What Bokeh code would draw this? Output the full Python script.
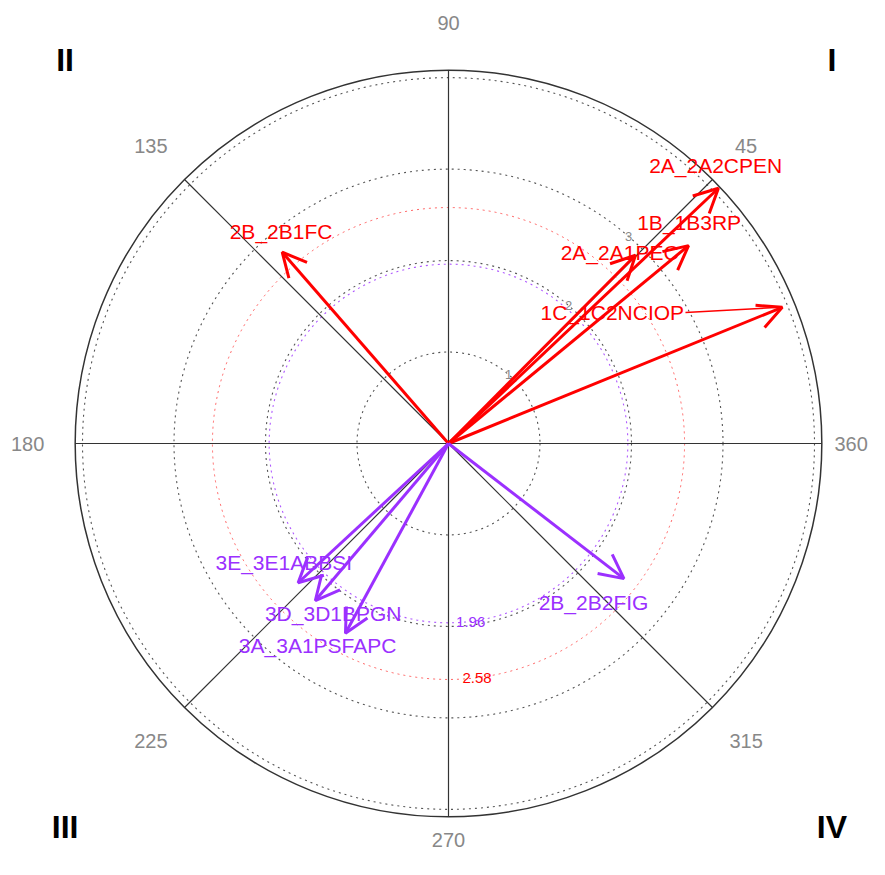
import numpy as np
from bokeh.plotting import figure
from bokeh.models import Arrow, OpenHead, ColumnDataSource
from bokeh.core.properties import value
from bokeh.embed import file_html
from bokeh.resources import INLINE

# ---------------- data ----------------
arrow_names = ["2A_2A2CPEN", "1B_1B3RP", "2A_2A1PEC", "1C_1C2NCIOP", "2B_2B1FC",
               "2B_2B2FIG", "3E_3E1ABBSI", "3D_3D1BPGN", "3A_3A1PSFAPC"]
arrow_angle = [43.4, 39.5, 45.2, 22.2, 131.0, 322.4, 222.8, 229.7, 241.5]   # degrees
arrow_length = [4.06, 3.40, 2.90, 3.94, 2.77, 2.42, 2.24, 2.25, 2.36]
arrow_group = ["up", "up", "up", "up", "up", "down", "down", "down", "down"]

# label anchor positions (repelled), in radial units
label_x = [2.92, 2.63, 1.87, 1.79, -1.83, 1.585, -1.80, -1.26, -1.43]
label_y = [3.04, 2.415, 2.087, 1.432, 2.317, -1.738, -1.30, -1.858, -2.208]

grid_radii = [1, 2, 3, 4]
grid_labels = ["1", "2", "3"]
sig_radii = [1.96, 2.58]
sig_labels = ["1.96", "2.58"]
angle_ticks = [0, 45, 90, 135, 180, 225, 270, 315]
angle_tick_labels = ["360", "45", "90", "135", "180", "225", "270", "315"]
angle_label_r = [4.40, 4.6, 4.6, 4.6, 4.6, 4.6, 4.33, 4.6]
quadrant_labels = ["I", "II", "III", "IV"]
quadrant_angles = [45, 135, 225, 315]

# ---------------- styles ----------------
RED = "#FF0000"
PURPLE = "#9B30FF"
colors = {"up": RED, "down": PURPLE}
FONT = "Liberation Sans"
R_OUT = 4.08
SCALE = 91.5      # px per unit
CX, CY = 448, 443   # centre in figure pixels
W, H = 869, 859

p = figure(width=W, height=H, output_backend="svg", toolbar_location=None,
           x_range=(-CX / SCALE, (W - CX) / SCALE),
           y_range=(-(H - CY) / SCALE, CY / SCALE),
           min_border=0)
p.axis.visible = False
p.grid.visible = False
p.outline_line_color = None
p.background_fill_color = "white"

# grid circles
p.circle(x=[0] * len(grid_radii), y=[0] * len(grid_radii), radius=grid_radii,
         fill_color=None, line_color="#555555", line_dash="dotted", line_width=1.1)
p.circle(x=[0], y=[0], radius=[sig_radii[0]], fill_color=None, line_color=PURPLE,
         line_dash="dotted", line_width=1.1, line_alpha=0.8)
p.circle(x=[0], y=[0], radius=[sig_radii[1]], fill_color=None, line_color="#FF4040",
         line_dash="dotted", line_width=1.0, line_alpha=0.8)
p.circle(x=[0], y=[0], radius=[R_OUT], fill_color=None, line_color="#333333", line_width=1.5)

# axis lines
p.segment(x0=[-R_OUT, 0], y0=[0, -R_OUT], x1=[R_OUT, 0], y1=[0, R_OUT],
          line_color="#333333", line_width=1.2)
diag = np.radians([45, 135, 225, 315])
p.segment(x0=[0] * 4, y0=[0] * 4, x1=list(R_OUT * np.cos(diag)), y1=list(R_OUT * np.sin(diag)),
          line_color="#333333", line_width=1.2)

# radial grid labels
ga = np.radians(49)
p.text(x=[r * np.cos(ga) for r in grid_radii[:3]], y=[r * np.sin(ga) for r in grid_radii[:3]],
       text=grid_labels, text_font=value(FONT), text_font_size="13px", text_color="#888888",
       text_align="center", text_baseline="middle")
sa = np.radians(-83.5)
p.text(x=[sig_radii[0] * np.cos(sa) + 0.02], y=[sig_radii[0] * np.sin(sa)], text=[sig_labels[0]],
       text_font=value(FONT), text_font_size="15px", text_color=PURPLE,
       text_align="center", text_baseline="middle")
p.text(x=[sig_radii[1] * np.cos(sa) + 0.02], y=[sig_radii[1] * np.sin(sa)], text=[sig_labels[1]],
       text_font=value(FONT), text_font_size="15px", text_color=RED,
       text_align="center", text_baseline="middle")

# angle labels
aa = np.radians(angle_ticks)
p.text(x=list(np.array(angle_label_r) * np.cos(aa)), y=list(np.array(angle_label_r) * np.sin(aa)),
       text=angle_tick_labels, text_font=value(FONT), text_font_size="20px", text_color="#888888",
       text_align="center", text_baseline="middle")

# quadrant labels
qa = np.radians(quadrant_angles)
p.text(x=list(4.19 * np.sqrt(2) * np.cos(qa)), y=list(4.19 * np.sqrt(2) * np.sin(qa)),
       text=quadrant_labels, text_font=value(FONT), text_font_size="32px",
       text_font_style="bold", text_color="black",
       text_align="center", text_baseline="middle")

# arrows
ang = np.radians(arrow_angle)
xe = np.array(arrow_length) * np.cos(ang)
ye = np.array(arrow_length) * np.sin(ang)
for i in range(len(arrow_names)):
    c = colors[arrow_group[i]]
    p.add_layout(Arrow(end=OpenHead(size=24, line_color=c, line_width=3),
                       x_start=0, y_start=0, x_end=float(xe[i]), y_end=float(ye[i]),
                       line_color=c, line_width=3))

# leader line for 1C label
i1c = arrow_names.index("1C_1C2NCIOP")
half_w = 0.80
p.segment(x0=[label_x[i1c] + half_w], y0=[label_y[i1c]], x1=[float(xe[i1c]) - 0.03],
          y1=[float(ye[i1c])], line_color=RED, line_width=1.5)

src = ColumnDataSource(dict(x=label_x, y=label_y, t=arrow_names,
                            c=[colors[g] for g in arrow_group]))
p.text(x="x", y="y", text="t", source=src, text_color="c", text_font=value(FONT),
       text_font_size="21px", text_align="center", text_baseline="middle")

open("out.html", "w").write(file_html(p, INLINE))
